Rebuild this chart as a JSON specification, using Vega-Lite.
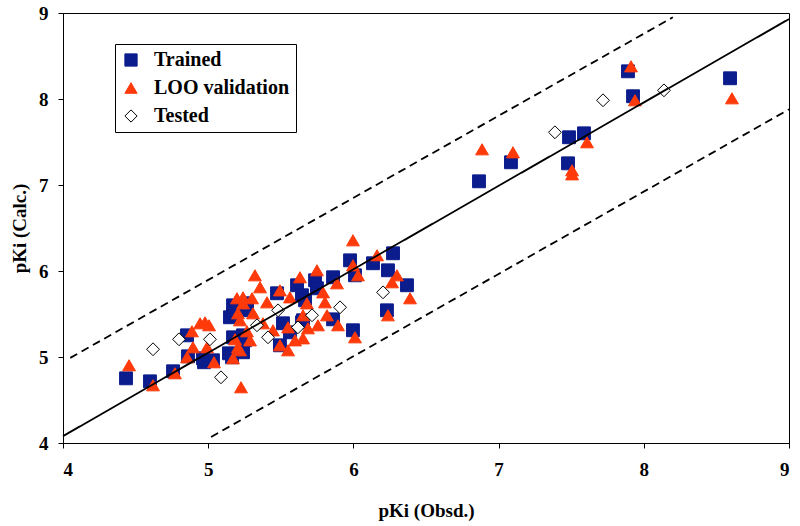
{
  "$schema": "https://vega.github.io/schema/vega-lite/v6.json",
  "width": 726,
  "height": 430,
  "autosize": "none",
  "padding": {"left": 63, "top": 13, "right": 11, "bottom": 83},
  "background": "white",
  "config": {
    "view": {"stroke": "black", "strokeWidth": 1},
    "axis": {
      "labelFont": "Liberation Serif", "labelFontWeight": "bold", "labelFontSize": 19, "labelColor": "black",
      "titleFont": "Liberation Serif", "titleFontWeight": "bold", "titleFontSize": 19, "titleColor": "black",
      "domainColor": "black", "tickColor": "black", "tickSize": 5, "grid": false, "domainWidth": 1, "format": "d"
    },
    "legend": {"orient": "none", "legendX": 52, "legendY": 31, "strokeColor": "black", "fillColor": "white", "padding": 6, "rowPadding": 8, "labelFont": "Liberation Serif", "labelFontWeight": "bold", "labelFontSize": 20, "labelColor": "black", "symbolSize": 150, "labelOffset": 13, "symbolStrokeWidth": 1}
  },
  "layer": [
    {
      "data": {"values": [
        {"series": "Trained", "obs": 4.434, "calc": 4.752},
        {"series": "Trained", "obs": 4.599, "calc": 4.717},
        {"series": "Trained", "obs": 4.758, "calc": 4.834},
        {"series": "Trained", "obs": 4.861, "calc": 5.008},
        {"series": "Trained", "obs": 4.971, "calc": 4.939},
        {"series": "Trained", "obs": 5.033, "calc": 4.962},
        {"series": "Trained", "obs": 5.143, "calc": 5.043},
        {"series": "Trained", "obs": 5.171, "calc": 5.229},
        {"series": "Trained", "obs": 5.171, "calc": 5.485},
        {"series": "Trained", "obs": 5.253, "calc": 5.194},
        {"series": "Trained", "obs": 4.854, "calc": 5.252},
        {"series": "Trained", "obs": 4.964, "calc": 4.985},
        {"series": "Trained", "obs": 5.150, "calc": 5.462},
        {"series": "Trained", "obs": 5.171, "calc": 5.601},
        {"series": "Trained", "obs": 5.267, "calc": 5.625},
        {"series": "Trained", "obs": 5.240, "calc": 5.252},
        {"series": "Trained", "obs": 5.164, "calc": 4.997},
        {"series": "Trained", "obs": 5.240, "calc": 5.055},
        {"series": "Trained", "obs": 5.474, "calc": 5.741},
        {"series": "Trained", "obs": 5.612, "calc": 5.834},
        {"series": "Trained", "obs": 5.646, "calc": 5.718},
        {"series": "Trained", "obs": 5.267, "calc": 5.543},
        {"series": "Trained", "obs": 5.515, "calc": 5.392},
        {"series": "Trained", "obs": 5.646, "calc": 5.403},
        {"series": "Trained", "obs": 5.563, "calc": 5.287},
        {"series": "Trained", "obs": 5.494, "calc": 5.136},
        {"series": "Trained", "obs": 5.977, "calc": 6.124},
        {"series": "Trained", "obs": 5.860, "calc": 5.927},
        {"series": "Trained", "obs": 5.736, "calc": 5.892},
        {"series": "Trained", "obs": 6.011, "calc": 5.950},
        {"series": "Trained", "obs": 5.749, "calc": 5.799},
        {"series": "Trained", "obs": 5.667, "calc": 5.659},
        {"series": "Trained", "obs": 5.860, "calc": 5.438},
        {"series": "Trained", "obs": 5.653, "calc": 5.427},
        {"series": "Trained", "obs": 5.997, "calc": 5.311},
        {"series": "Trained", "obs": 6.273, "calc": 6.206},
        {"series": "Trained", "obs": 6.135, "calc": 6.090},
        {"series": "Trained", "obs": 6.238, "calc": 6.008},
        {"series": "Trained", "obs": 6.369, "calc": 5.834},
        {"series": "Trained", "obs": 6.231, "calc": 5.543},
        {"series": "Trained", "obs": 6.865, "calc": 7.043},
        {"series": "Trained", "obs": 7.085, "calc": 7.264},
        {"series": "Trained", "obs": 7.485, "calc": 7.555},
        {"series": "Trained", "obs": 7.588, "calc": 7.601},
        {"series": "Trained", "obs": 7.478, "calc": 7.252},
        {"series": "Trained", "obs": 7.891, "calc": 8.322},
        {"series": "Trained", "obs": 7.926, "calc": 8.032},
        {"series": "Trained", "obs": 8.594, "calc": 8.241},
        {"series": "LOO validation", "obs": 4.455, "calc": 4.904},
        {"series": "LOO validation", "obs": 4.620, "calc": 4.671},
        {"series": "LOO validation", "obs": 4.771, "calc": 4.811},
        {"series": "LOO validation", "obs": 4.854, "calc": 4.997},
        {"series": "LOO validation", "obs": 4.895, "calc": 5.113},
        {"series": "LOO validation", "obs": 4.888, "calc": 5.299},
        {"series": "LOO validation", "obs": 4.944, "calc": 5.392},
        {"series": "LOO validation", "obs": 5.006, "calc": 5.369},
        {"series": "LOO validation", "obs": 4.992, "calc": 5.113},
        {"series": "LOO validation", "obs": 5.040, "calc": 4.939},
        {"series": "LOO validation", "obs": 5.226, "calc": 4.648},
        {"series": "LOO validation", "obs": 5.171, "calc": 4.985},
        {"series": "LOO validation", "obs": 5.205, "calc": 5.113},
        {"series": "LOO validation", "obs": 5.198, "calc": 5.683},
        {"series": "LOO validation", "obs": 5.322, "calc": 5.950},
        {"series": "LOO validation", "obs": 5.302, "calc": 5.683},
        {"series": "LOO validation", "obs": 4.978, "calc": 5.403},
        {"series": "LOO validation", "obs": 5.240, "calc": 5.694},
        {"series": "LOO validation", "obs": 5.205, "calc": 5.508},
        {"series": "LOO validation", "obs": 5.219, "calc": 5.427},
        {"series": "LOO validation", "obs": 5.185, "calc": 5.206},
        {"series": "LOO validation", "obs": 5.267, "calc": 5.299},
        {"series": "LOO validation", "obs": 5.632, "calc": 5.927},
        {"series": "LOO validation", "obs": 5.357, "calc": 5.811},
        {"series": "LOO validation", "obs": 5.494, "calc": 5.775},
        {"series": "LOO validation", "obs": 5.405, "calc": 5.636},
        {"series": "LOO validation", "obs": 5.563, "calc": 5.694},
        {"series": "LOO validation", "obs": 5.309, "calc": 5.508},
        {"series": "LOO validation", "obs": 5.240, "calc": 5.624},
        {"series": "LOO validation", "obs": 5.550, "calc": 5.345},
        {"series": "LOO validation", "obs": 5.653, "calc": 5.485},
        {"series": "LOO validation", "obs": 5.288, "calc": 5.194},
        {"series": "LOO validation", "obs": 5.377, "calc": 5.392},
        {"series": "LOO validation", "obs": 5.446, "calc": 5.310},
        {"series": "LOO validation", "obs": 5.598, "calc": 5.194},
        {"series": "LOO validation", "obs": 5.494, "calc": 5.136},
        {"series": "LOO validation", "obs": 5.550, "calc": 5.078},
        {"series": "LOO validation", "obs": 5.653, "calc": 5.217},
        {"series": "LOO validation", "obs": 5.219, "calc": 5.078},
        {"series": "LOO validation", "obs": 5.997, "calc": 6.357},
        {"series": "LOO validation", "obs": 5.997, "calc": 6.066},
        {"series": "LOO validation", "obs": 5.749, "calc": 6.008},
        {"series": "LOO validation", "obs": 5.887, "calc": 5.857},
        {"series": "LOO validation", "obs": 5.791, "calc": 5.752},
        {"series": "LOO validation", "obs": 5.680, "calc": 5.624},
        {"series": "LOO validation", "obs": 5.804, "calc": 5.636},
        {"series": "LOO validation", "obs": 5.818, "calc": 5.485},
        {"series": "LOO validation", "obs": 5.756, "calc": 5.369},
        {"series": "LOO validation", "obs": 5.894, "calc": 5.369},
        {"series": "LOO validation", "obs": 5.687, "calc": 5.334},
        {"series": "LOO validation", "obs": 6.011, "calc": 5.229},
        {"series": "LOO validation", "obs": 6.163, "calc": 6.183},
        {"series": "LOO validation", "obs": 6.300, "calc": 5.950},
        {"series": "LOO validation", "obs": 6.266, "calc": 5.869},
        {"series": "LOO validation", "obs": 6.032, "calc": 5.950},
        {"series": "LOO validation", "obs": 6.390, "calc": 5.683},
        {"series": "LOO validation", "obs": 6.238, "calc": 5.485},
        {"series": "LOO validation", "obs": 6.886, "calc": 7.415},
        {"series": "LOO validation", "obs": 7.099, "calc": 7.380},
        {"series": "LOO validation", "obs": 7.506, "calc": 7.171},
        {"series": "LOO validation", "obs": 7.506, "calc": 7.124},
        {"series": "LOO validation", "obs": 7.609, "calc": 7.497},
        {"series": "LOO validation", "obs": 7.912, "calc": 8.380},
        {"series": "LOO validation", "obs": 7.939, "calc": 7.985},
        {"series": "LOO validation", "obs": 8.607, "calc": 8.008},
        {"series": "Tested", "obs": 4.620, "calc": 5.090},
        {"series": "Tested", "obs": 4.799, "calc": 5.206},
        {"series": "Tested", "obs": 5.012, "calc": 5.206},
        {"series": "Tested", "obs": 5.088, "calc": 4.764},
        {"series": "Tested", "obs": 5.481, "calc": 5.543},
        {"series": "Tested", "obs": 5.336, "calc": 5.369},
        {"series": "Tested", "obs": 5.412, "calc": 5.229},
        {"series": "Tested", "obs": 5.618, "calc": 5.345},
        {"series": "Tested", "obs": 5.908, "calc": 5.578},
        {"series": "Tested", "obs": 5.715, "calc": 5.485},
        {"series": "Tested", "obs": 6.204, "calc": 5.752},
        {"series": "Tested", "obs": 7.388, "calc": 7.613},
        {"series": "Tested", "obs": 7.719, "calc": 7.985},
        {"series": "Tested", "obs": 8.139, "calc": 8.101}
      ]},
      "mark": {"type": "point", "filled": true, "size": 165, "strokeWidth": 1, "opacity": 1},
      "encoding": {
        "x": {"field": "obs", "type": "quantitative", "scale": {"domain": [4, 9], "nice": false, "zero": false},
              "axis": {"title": "pKi (Obsd.)", "values": [4, 5, 6, 7, 8, 9], "labelPadding": 12, "titlePadding": 22}},
        "y": {"field": "calc", "type": "quantitative", "scale": {"domain": [4, 9], "nice": false, "zero": false},
              "axis": {"title": "pKi (Calc.)", "values": [4, 5, 6, 7, 8, 9], "labelPadding": 10, "titlePadding": 9}},
        "fill": {"field": "series", "type": "nominal",
                 "scale": {"domain": ["Trained", "LOO validation", "Tested"], "range": ["#0B1C8C", "#FF3A0A", "white"]},
                 "legend": {"title": null, "encode": {"legend": {"update": {"strokeWidth": {"value": 2}}}}}},
        "stroke": {"field": "series", "type": "nominal",
                   "scale": {"domain": ["Trained", "LOO validation", "Tested"], "range": ["#0B1C8C", "#FF3A0A", "black"]},
                   "legend": {"title": null}},
        "shape": {"field": "series", "type": "nominal",
                  "scale": {"domain": ["Trained", "LOO validation", "Tested"], "range": ["square", "triangle-up", "diamond"]},
                  "legend": {"title": null}}
      }
    },
    {
      "data": {"values": [
        {"kind": "solid", "obs": 4.0, "calc": 4.08, "obs2": 9.0, "calc2": 8.93},
        {"kind": "dashed", "obs": 4.05, "calc": 4.99, "obs2": 8.2, "calc2": 8.95},
        {"kind": "dashed", "obs": 5.02, "calc": 4.07, "obs2": 9.0, "calc2": 7.88}
      ]},
      "mark": {"type": "rule", "color": "black", "strokeWidth": 1.8},
      "encoding": {
        "x": {"field": "obs", "type": "quantitative", "axis": {"title": "pKi (Obsd.)"}},
        "y": {"field": "calc", "type": "quantitative", "axis": {"title": "pKi (Calc.)"}},
        "x2": {"field": "obs2"},
        "y2": {"field": "calc2"},
        "strokeDash": {"field": "kind", "type": "nominal",
                       "scale": {"domain": ["solid", "dashed"], "range": [[1, 0], [8, 5]]}, "legend": null}
      }
    }
  ]
}
